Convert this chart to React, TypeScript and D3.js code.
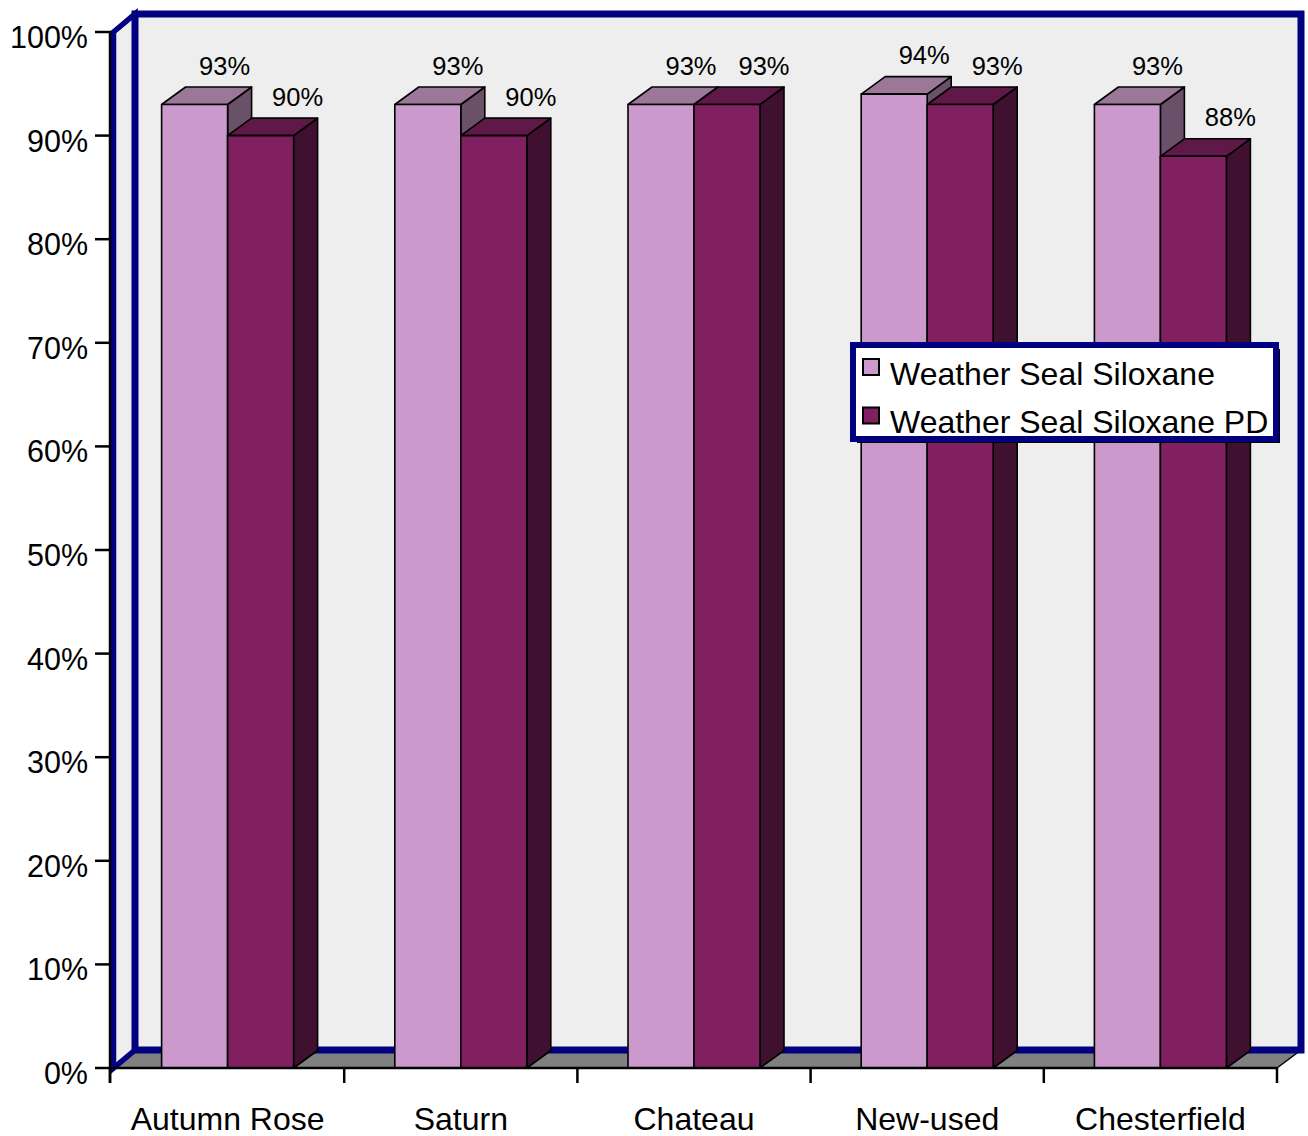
import React from "react";
import * as d3 from "d3";

const categories = ["Autumn Rose", "Saturn", "Chateau", "New-used", "Chesterfield"];
const seriesNames = ["Weather Seal Siloxane", "Weather Seal Siloxane PD"];
const sealValues = [0.93, 0.93, 0.93, 0.94, 0.93];
const sealPdValues = [0.9, 0.9, 0.93, 0.93, 0.88];
const yTicks = [0, 0.1, 0.2, 0.3, 0.4, 0.5, 0.6, 0.7, 0.8, 0.9, 1.0];

const W = 1308;
const H = 1136;
const FONT = "'Liberation Sans', Arial, sans-serif";
const NAVY = "#000080";
const WALL = "#eeeeee";
const FLOOR = "#808080";

const seriesStyles = [
  { front: "#cc99cc", top: "#9c7898", side: "#6a5068", labelDx: 30 },
  { front: "#802060", top: "#601848", side: "#401030", labelDx: 37 },
];

export default function App() {
  const x0 = 111;
  const x1 = 1277;
  const yBase = 1068;
  const yTop = 32;
  const dx = 24;
  const dy = -18;
  const bdx = 24;
  const bdy = -17.5;

  const y = d3.scaleLinear().domain([0, 1]).range([yBase, yTop]);
  const xBand = d3.scaleBand<string>().domain(categories).range([x0, x1]).padding(0);
  const bw = xBand.bandwidth();
  const groupW = bw * 0.566;
  const xSeries = d3
    .scaleBand<string>()
    .domain(seriesNames)
    .range([(bw - groupW) / 2, (bw + groupW) / 2])
    .padding(0);
  const barW = xSeries.bandwidth();
  const fmt = d3.format(".0%");

  const data = [sealValues, sealPdValues];

  const bars: React.ReactNode[] = [];
  const labels: React.ReactNode[] = [];
  categories.forEach((c, ci) => {
    seriesNames.forEach((s, si) => {
      const v = data[si][ci];
      const bx = (xBand(c) as number) + (xSeries(s) as number);
      const yt = y(v);
      const st = seriesStyles[si];
      const topPts = [
        [bx, yt],
        [bx + barW, yt],
        [bx + barW + bdx, yt + bdy],
        [bx + bdx, yt + bdy],
      ];
      const sidePts = [
        [bx + barW, yt],
        [bx + barW + bdx, yt + bdy],
        [bx + barW + bdx, yBase + bdy],
        [bx + barW, yBase],
      ];
      bars.push(
        <g key={`b-${ci}-${si}`} stroke="#000" strokeWidth={1.6} strokeLinejoin="round">
          <polygon points={sidePts.map((p) => p.join(",")).join(" ")} fill={st.side} />
          <polygon points={topPts.map((p) => p.join(",")).join(" ")} fill={st.top} />
          <rect x={bx} y={yt} width={barW} height={yBase - yt} fill={st.front} />
        </g>
      );
      labels.push(
        <text
          key={`l-${ci}-${si}`}
          x={bx + barW / 2 + st.labelDx}
          y={yt - 30}
          textAnchor="middle"
          fontSize={25.5}
          fontFamily={FONT}
          fill="#000"
        >
          {fmt(v)}
        </text>
      );
    });
  });

  const pts = (a: number[][]) => a.map((p) => p.join(",")).join(" ");

  return (
    <svg
      width={W}
      height={H}
      style={{ position: "absolute", left: 0, top: 0, background: "#fff" }}
    >
      {/* back wall */}
      <rect x={x0 + dx} y={yTop + dy} width={x1 - x0} height={yBase - yTop} fill={WALL} />
      {/* left wall */}
      <polygon
        points={pts([
          [x0 + 2.5, yTop],
          [x0 + dx, yTop + dy],
          [x0 + dx, yBase + dy],
          [x0 + 2.5, yBase],
        ])}
        fill={WALL}
      />
      {/* floor */}
      <polygon
        points={pts([
          [x0, yBase],
          [x1, yBase],
          [x1 + dx, yBase + dy],
          [x0 + dx, yBase + dy],
        ])}
        fill={FLOOR}
      />
      <line x1={x1} y1={yBase} x2={x1 + dx} y2={yBase + dy} stroke="#000" strokeWidth={1.5} />
      {/* navy frame */}
      <rect
        x={x0 + dx}
        y={yTop + dy}
        width={x1 - x0}
        height={yBase - yTop}
        fill="none"
        stroke={NAVY}
        strokeWidth={7}
      />
      <polygon
        points={pts([
          [x0 + 2.5, yTop],
          [x0 + dx, yTop + dy],
          [x0 + dx, yBase + dy],
          [x0 + 2.5, yBase],
        ])}
        fill="none"
        stroke={NAVY}
        strokeWidth={5.5}
        strokeLinejoin="miter"
      />

      {bars}

      {/* y axis */}
      <line x1={x0 - 1} y1={yTop} x2={x0 - 1} y2={yBase + 15} stroke="#000" strokeWidth={2.5} />
      {yTicks.map((t) => (
        <g key={`yt-${t}`}>
          <line x1={95} x2={x0} y1={y(t)} y2={y(t)} stroke="#000" strokeWidth={2.5} />
          <text
            x={88}
            y={y(t) + 16}
            textAnchor="end"
            fontSize={30.5}
            fontFamily={FONT}
            fill="#000"
          >
            {fmt(t)}
          </text>
        </g>
      ))}
      {/* x axis */}
      <line x1={x0} x2={x1} y1={yBase} y2={yBase} stroke="#000" strokeWidth={2.5} />
      {categories.map((c, i) => (
        <line
          key={`xt-${c}`}
          x1={(xBand(c) as number) + (i === 0 ? -1 : 0)}
          x2={(xBand(c) as number) + (i === 0 ? -1 : 0)}
          y1={yBase}
          y2={yBase + 15}
          stroke="#000"
          strokeWidth={2.5}
        />
      ))}
      <line x1={x1} x2={x1} y1={yBase} y2={yBase + 15} stroke="#000" strokeWidth={2.5} />
      {categories.map((c) => (
        <text
          key={`xl-${c}`}
          x={(xBand(c) as number) + bw / 2}
          y={1130}
          textAnchor="middle"
          fontSize={32}
          fontFamily={FONT}
          fill="#000"
        >
          {c}
        </text>
      ))}

      {labels}

      {/* legend */}
      <g>
        <rect x={857} y={349} width={423} height={94} fill="#000" />
        <rect x={853} y={345} width={423} height={94} fill="#fff" stroke={NAVY} strokeWidth={6} />
        {seriesNames.map((s, i) => (
          <g key={`lg-${s}`}>
            <rect
              x={863}
              y={359 + i * 48.5}
              width={16}
              height={16}
              fill={seriesStyles[i].front}
              stroke="#000"
              strokeWidth={2}
            />
            <text x={890} y={385 + i * 48} fontSize={32} fontFamily={FONT} fill="#000">
              {s}
            </text>
          </g>
        ))}
      </g>
    </svg>
  );
}
